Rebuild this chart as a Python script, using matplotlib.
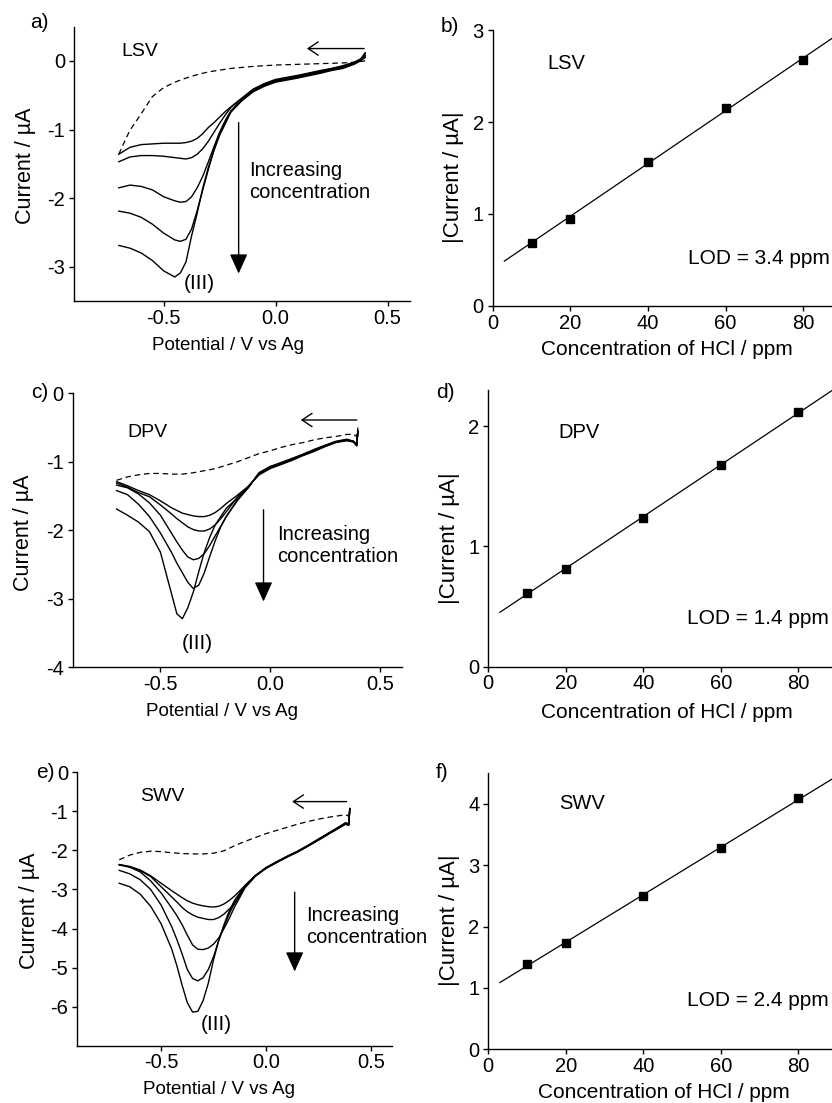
import numpy as np
import matplotlib
matplotlib.use("Agg")
import matplotlib.pyplot as plt

plt.rcParams["font.family"] = ["Liberation Sans", "DejaVu Sans"]
plt.rcParams["axes.unicode_minus"] = False

# ---------------- LSV (panel a) ----------------
lsv_v = [-0.70, -0.65, -0.60, -0.55, -0.50, -0.45, -0.425, -0.40, -0.375, -0.35, -0.325, -0.30,
         -0.275, -0.25, -0.225, -0.20, -0.15, -0.10, -0.05, 0.00, 0.10, 0.20, 0.25, 0.30, 0.35, 0.38, 0.40]
lsv_curves = [
    [-1.36, -1.26, -1.22, -1.21, -1.20, -1.20, -1.20, -1.19, -1.17, -1.13, -1.06, -0.97,
     -0.90, -0.82, -0.74, -0.67, -0.54, -0.41, -0.33, -0.27, -0.21, -0.14, -0.11, -0.07, -0.02, 0.03, 0.12],
    [-1.47, -1.40, -1.38, -1.38, -1.39, -1.41, -1.42, -1.43, -1.41, -1.36, -1.28, -1.17,
     -1.04, -0.91, -0.79, -0.68, -0.55, -0.42, -0.34, -0.28, -0.22, -0.15, -0.115, -0.08, -0.025, 0.02, 0.10],
    [-1.85, -1.81, -1.83, -1.88, -1.98, -2.04, -2.06, -2.05, -1.98, -1.85, -1.68, -1.47,
     -1.25, -1.04, -0.87, -0.73, -0.56, -0.43, -0.35, -0.29, -0.23, -0.16, -0.12, -0.09, -0.03, 0.02, 0.08],
    [-2.19, -2.22, -2.28, -2.38, -2.51, -2.61, -2.63, -2.60, -2.45, -2.18, -1.88, -1.58,
     -1.30, -1.08, -0.90, -0.75, -0.57, -0.44, -0.36, -0.30, -0.24, -0.17, -0.13, -0.10, -0.04, 0.01, 0.06],
    [-2.69, -2.73, -2.80, -2.91, -3.06, -3.15, -3.09, -2.93, -2.55, -2.22, -1.85, -1.55,
     -1.30, -1.08, -0.92, -0.74, -0.58, -0.45, -0.37, -0.31, -0.25, -0.18, -0.14, -0.11, -0.05, 0.00, 0.05],
]
lsv_blank_v = [-0.70, -0.675, -0.65, -0.60, -0.55, -0.50, -0.45, -0.40, -0.35, -0.30, -0.20,
               -0.10, 0.00, 0.10, 0.20, 0.30, 0.35, 0.40]
lsv_blank = [-1.36, -1.18, -1.01, -0.77, -0.52, -0.39, -0.31, -0.25, -0.20, -0.16, -0.11,
             -0.08, -0.06, -0.05, -0.04, -0.03, -0.02, 0.00]

# ---------------- DPV (panel c) ----------------
dpv_v = [-0.70, -0.65, -0.60, -0.55, -0.50, -0.45, -0.425, -0.40, -0.375, -0.35, -0.325, -0.30,
         -0.275, -0.25, -0.225, -0.20, -0.15, -0.10, -0.05, 0.00, 0.05, 0.10, 0.15, 0.20, 0.25,
         0.30, 0.35, 0.38, 0.395, 0.40]
dpv_curves = [
    [-1.29, -1.35, -1.42, -1.48, -1.57, -1.67, -1.71, -1.75, -1.77, -1.79, -1.80, -1.80,
     -1.78, -1.74, -1.68, -1.61, -1.49, -1.36, -1.19, -1.10, -1.04, -0.98, -0.91, -0.85, -0.78,
     -0.72, -0.69, -0.71, -0.76, -0.55],
    [-1.31, -1.37, -1.45, -1.51, -1.63, -1.76, -1.83, -1.89, -1.95, -1.99, -2.01, -2.01,
     -1.98, -1.92, -1.83, -1.73, -1.52, -1.36, -1.18, -1.09, -1.03, -0.97, -0.90, -0.84, -0.77,
     -0.71, -0.69, -0.71, -0.77, -0.54],
    [-1.34, -1.38, -1.47, -1.60, -1.78, -2.04, -2.17, -2.29, -2.39, -2.43, -2.41, -2.34,
     -2.22, -2.08, -1.94, -1.80, -1.56, -1.37, -1.17, -1.08, -1.02, -0.96, -0.90, -0.83, -0.77,
     -0.71, -0.68, -0.70, -0.76, -0.55],
    [-1.42, -1.48, -1.62, -1.80, -2.04, -2.32, -2.48, -2.62, -2.76, -2.85, -2.80, -2.62,
     -2.38, -2.15, -1.95, -1.80, -1.57, -1.38, -1.16, -1.07, -1.02, -0.96, -0.89, -0.83, -0.76,
     -0.71, -0.68, -0.70, -0.75, -0.56],
    [-1.69, -1.78, -1.88, -2.02, -2.32, -2.92, -3.22, -3.29, -3.13, -2.90, -2.60, -2.32,
     -2.10, -1.92, -1.80, -1.68, -1.53, -1.38, -1.16, -1.07, -1.01, -0.95, -0.89, -0.82, -0.76,
     -0.70, -0.67, -0.70, -0.75, -0.57],
]
dpv_blank_v = [-0.70, -0.65, -0.60, -0.55, -0.50, -0.45, -0.40, -0.35, -0.30, -0.25, -0.20, -0.15,
               -0.10, -0.05, 0.00, 0.05, 0.10, 0.15, 0.20, 0.25, 0.30, 0.35, 0.38, 0.395, 0.40]
dpv_blank = [-1.27, -1.22, -1.19, -1.17, -1.17, -1.18, -1.18, -1.16, -1.13, -1.10, -1.05, -1.00,
             -0.94, -0.88, -0.84, -0.79, -0.75, -0.72, -0.68, -0.65, -0.63, -0.60, -0.60, -0.63, -0.50]

# ---------------- SWV (panel e) ----------------
swv_v = [-0.70, -0.65, -0.60, -0.55, -0.50, -0.45, -0.425, -0.40, -0.375, -0.35, -0.325, -0.30,
         -0.275, -0.25, -0.225, -0.20, -0.175, -0.15, -0.10, -0.05, 0.00, 0.05, 0.10, 0.15, 0.20,
         0.25, 0.30, 0.35, 0.38, 0.395, 0.40]
swv_curves = [
    [-2.36, -2.41, -2.50, -2.65, -2.84, -3.03, -3.12, -3.21, -3.29, -3.35, -3.39, -3.42,
     -3.44, -3.45, -3.43, -3.37, -3.28, -3.17, -2.90, -2.64, -2.44, -2.29, -2.15, -2.02, -1.87,
     -1.71, -1.55, -1.39, -1.29, -1.32, -0.93],
    [-2.37, -2.42, -2.52, -2.67, -2.93, -3.19, -3.32, -3.46, -3.57, -3.65, -3.71, -3.74,
     -3.77, -3.77, -3.72, -3.63, -3.50, -3.37, -2.93, -2.65, -2.45, -2.30, -2.16, -2.03, -1.88,
     -1.72, -1.56, -1.40, -1.30, -1.33, -0.93],
    [-2.37, -2.43, -2.55, -2.78, -3.09, -3.47, -3.67, -3.90, -4.17, -4.42, -4.53, -4.54,
     -4.50, -4.40, -4.24, -4.00, -3.74, -3.45, -2.96, -2.66, -2.46, -2.31, -2.17, -2.04, -1.89,
     -1.73, -1.57, -1.41, -1.31, -1.34, -0.93],
    [-2.51, -2.60, -2.75, -3.00, -3.40, -3.95, -4.28, -4.65, -5.05, -5.28, -5.34, -5.26,
     -5.05, -4.72, -4.30, -3.95, -3.62, -3.35, -2.92, -2.65, -2.46, -2.31, -2.17, -2.04, -1.89,
     -1.73, -1.57, -1.42, -1.32, -1.35, -0.93],
    [-2.84, -2.93, -3.12, -3.43, -3.88, -4.52, -4.95, -5.45, -5.90, -6.14, -6.12, -5.85,
     -5.40, -4.80, -4.30, -3.90, -3.55, -3.28, -2.90, -2.64, -2.45, -2.31, -2.17, -2.04, -1.89,
     -1.74, -1.58, -1.42, -1.33, -1.36, -0.93],
]
swv_blank_v = [-0.70, -0.65, -0.60, -0.55, -0.50, -0.45, -0.40, -0.35, -0.30, -0.25, -0.20, -0.15,
               -0.10, -0.05, 0.00, 0.05, 0.10, 0.15, 0.20, 0.25, 0.30, 0.35, 0.38, 0.395, 0.40]
swv_blank = [-2.24, -2.12, -2.05, -2.02, -2.03, -2.06, -2.08, -2.09, -2.09, -2.07, -2.01, -1.88,
             -1.77, -1.67, -1.57, -1.49, -1.41, -1.33, -1.26, -1.20, -1.15, -1.11, -1.09, -1.12, -0.92]

# ---------------- calibration (panels b, d, f) ----------------
conc = [10, 20, 40, 60, 80]
lsv_peak = [0.69, 0.95, 1.57, 2.15, 2.67]
dpv_peak = [0.615, 0.81, 1.24, 1.675, 2.115]
swv_peak = [1.39, 1.73, 2.50, 3.28, 4.09]

W, H = 832, 1103
TICK_FS = 14.5


def px_rect(l, t, r, b):
    return [l / W, 1 - b / H, (r - l) / W, (b - t) / H]


def style_axes(ax):
    for side in ["top", "right"]:
        ax.spines[side].set_visible(False)
    for side in ["left", "bottom"]:
        ax.spines[side].set_linewidth(1.0)
    ax.tick_params(direction="out", length=3.5, width=1.0, labelsize=TICK_FS)
    ax.tick_params(axis="x", pad=2)
    ax.tick_params(axis="y", pad=3)


def place_labels(ax, box, xl_c, yl_c):
    l, t, r, b = box
    ax.xaxis.set_label_coords((xl_c[0] - l) / (r - l), (b - xl_c[1]) / (b - t))
    ax.yaxis.set_label_coords((yl_c[0] - l) / (r - l), (b - yl_c[1]) / (b - t))


def voltammogram(ax, box, v, curves, blank_v, blank, ylim, yticks, name, name_xy,
                 harrow, varrow, text_xy, peak_xy, xl_c, yl_c):
    for c in curves:
        ax.plot(v, c, color="k", lw=1.0)
    ax.plot(blank_v, blank, color="k", lw=0.9, dashes=(4.5, 3))
    ax.set_xlim(-0.9, 0.6)
    ax.set_ylim(*ylim)
    ax.set_xticks([-0.5, 0.0, 0.5])
    ax.set_xticklabels(["-0.5", "0.0", "0.5"])
    ax.set_yticks(yticks)
    style_axes(ax)
    ax.set_xlabel("Potential / V vs Ag", fontsize=13.5, va="center")
    ax.set_ylabel("Current / µA", fontsize=15.5, va="center")
    place_labels(ax, box, xl_c, yl_c)
    ax.text(name_xy[0], name_xy[1], name, fontsize=14, ha="left", va="center")
    ax.annotate("", xy=harrow[1], xytext=harrow[0],
                arrowprops=dict(arrowstyle="->,head_length=0.45,head_width=0.3", lw=1.0,
                                color="k", mutation_scale=16, shrinkA=0, shrinkB=0))
    ax.annotate("", xy=varrow[1], xytext=varrow[0],
                arrowprops=dict(arrowstyle="-|>,head_length=0.55,head_width=0.25", lw=1.0,
                                color="k", mutation_scale=22, shrinkA=0, shrinkB=0))
    ax.text(text_xy[0], text_xy[1], "Increasing\nconcentration", fontsize=14.5,
            ha="left", va="center", linespacing=1.2)
    ax.text(peak_xy[0], peak_xy[1], "(III)", fontsize=15, ha="center", va="center")


def calibration(ax, box, peak, ylim, yticks, name, name_xy, lod, lod_xy, xl_c, yl_c):
    slope, icpt = np.polyfit(conc, peak, 1)
    xl = np.array([3, 92])
    ax.plot(xl, slope * xl + icpt, color="k", lw=0.9)
    ax.plot(conc, peak, ls="none", marker="s", ms=6, color="k")
    ax.set_xlim(0, 90)
    ax.set_ylim(*ylim)
    ax.set_xticks([0, 20, 40, 60, 80])
    ax.set_yticks(yticks)
    style_axes(ax)
    ax.set_xlabel("Concentration of HCl / ppm", fontsize=15, va="center")
    ax.set_ylabel("|Current / µA|", fontsize=16, va="center")
    place_labels(ax, box, xl_c, yl_c)
    ax.text(name_xy[0], name_xy[1], name, fontsize=14.5, ha="left", va="center")
    ax.text(lod_xy[0], lod_xy[1], lod, fontsize=15, ha="left", va="center")


fig = plt.figure(figsize=(W / 100, H / 100), dpi=100)

box_a = (74, 26.6, 410, 301)
ax_a = fig.add_axes(px_rect(*box_a))
voltammogram(ax_a, box_a, lsv_v, lsv_curves, lsv_blank_v, lsv_blank, (-3.5, 0.5), [-3, -2, -1, 0],
             "LSV", (-0.69, 0.13), ((0.395, 0.18), (0.14, 0.18)),
             ((-0.165, -0.9), (-0.165, -3.1)), (-0.12, -1.76), (-0.34, -3.25),
             (228, 345), (26, 166))

box_c = (72.7, 393.3, 401.7, 667.3)
ax_c = fig.add_axes(px_rect(*box_c))
voltammogram(ax_c, box_c, dpv_v, dpv_curves, dpv_blank_v, dpv_blank, (-4, 0), [-4, -3, -2, -1, 0],
             "DPV", (-0.65, -0.57), ((0.395, -0.39), (0.14, -0.39)),
             ((-0.03, -1.7), (-0.03, -3.04)), (0.03, -2.22), (-0.33, -3.65),
             (222, 711), (24, 533))

box_e = (77.3, 772.3, 391.7, 1045.7)
ax_e = fig.add_axes(px_rect(*box_e))
voltammogram(ax_e, box_e, swv_v, swv_curves, swv_blank_v, swv_blank, (-7, 0),
             [-6, -5, -4, -3, -2, -1, 0],
             "SWV", (-0.60, -0.61), ((0.385, -0.75), (0.125, -0.75)),
             ((0.137, -3.07), (0.137, -5.1)), (0.19, -3.95), (-0.237, -6.45),
             (219, 1090), (30, 911))

box_b = (492.7, 30, 841.9, 306)
ax_b = fig.add_axes(px_rect(*box_b))
calibration(ax_b, box_b, lsv_peak, (0, 3), [0, 1, 2, 3], "LSV", (14, 2.64),
            "LOD = 3.4 ppm", (50.3, 0.52), (667, 350), (454, 177))

box_d = (488.3, 390, 837, 666.7)
ax_d = fig.add_axes(px_rect(*box_d))
calibration(ax_d, box_d, dpv_peak, (0, 2.3), [0, 1, 2], "DPV", (18.2, 1.95),
            "LOD = 1.4 ppm", (51.2, 0.40), (667, 713), (450, 538))

box_f = (488.3, 773.3, 837, 1049.3)
ax_f = fig.add_axes(px_rect(*box_f))
calibration(ax_f, box_f, swv_peak, (0, 4.5), [0, 1, 2, 3, 4], "SWV", (18.2, 4.01),
            "LOD = 2.4 ppm", (51.3, 0.80), (664, 1093), (450, 920))

# panel letters
for lab, x, y in [("a)", 30, 22), ("b)", 441, 27), ("c)", 31, 392),
                  ("d)", 436, 392), ("e)", 36, 772), ("f)", 436, 772)]:
    fig.text(x / W, 1 - y / H, lab, fontsize=15, ha="left", va="center")

fig.savefig("out.png", dpi=100)
